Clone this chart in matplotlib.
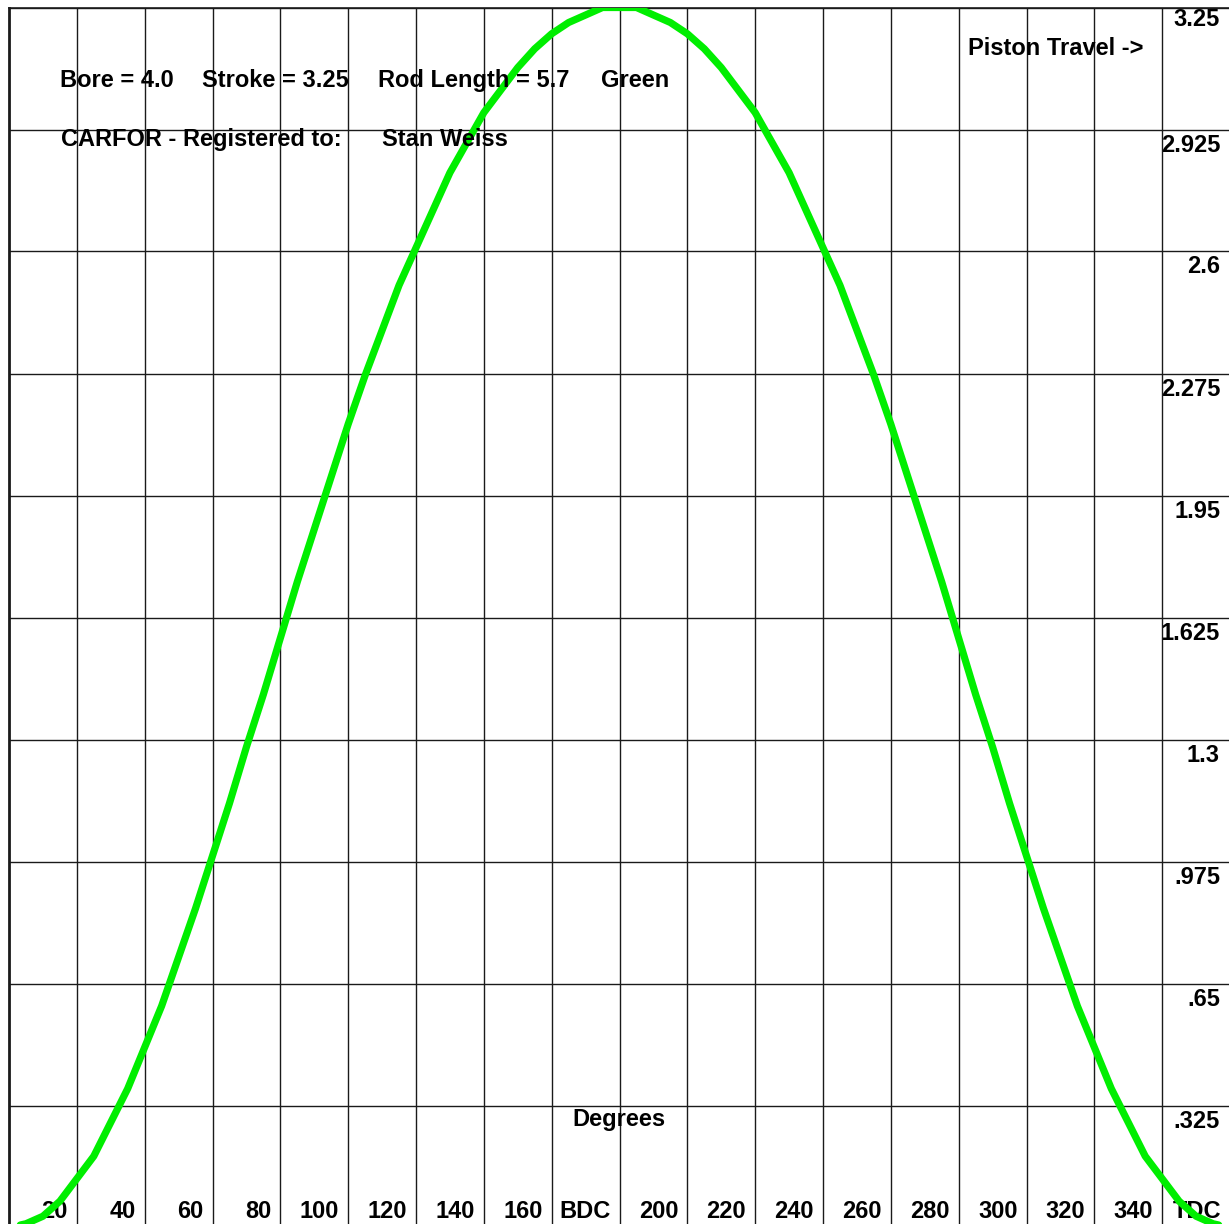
import matplotlib
matplotlib.use('Agg')
from matplotlib import pyplot as plt
from matplotlib.transforms import offset_copy

# crank angle (deg) and piston travel (in), every 5 deg
angle = list(range(0, 361, 5))
travel = [0.00, 0.01, 0.03, 0.07, 0.13, 0.19, 0.28, 0.37, 0.48, 0.59, 0.72, 0.85,
          0.99, 1.13, 1.28, 1.42, 1.57, 1.72, 1.86, 2.00, 2.14, 2.27, 2.39, 2.51,
          2.61, 2.71, 2.81, 2.89, 2.97, 3.03, 3.09, 3.14, 3.18, 3.21, 3.23, 3.25,
          3.25,
          3.25, 3.23, 3.21, 3.18, 3.14, 3.09, 3.03, 2.97, 2.89, 2.81, 2.71, 2.61,
          2.51, 2.39, 2.27, 2.14, 2.00, 1.86, 1.72, 1.57, 1.42, 1.28, 1.13, 0.99,
          0.85, 0.72, 0.59, 0.48, 0.37, 0.28, 0.19, 0.13, 0.07, 0.03, 0.01, 0.00]

x_ticks = [20, 40, 60, 80, 100, 120, 140, 160, 180, 200, 220, 240, 260, 280, 300, 320, 340, 360]
x_labels = ['20', '40', '60', '80', '100', '120', '140', '160', 'BDC', '200', '220', '240',
            '260', '280', '300', '320', '340', 'TDC']
y_ticks = [0.325, 0.65, 0.975, 1.3, 1.625, 1.95, 2.275, 2.6, 2.925, 3.25]
y_labels = ['.325', '.65', '.975', '1.3', '1.625', '1.95', '2.275', '2.6', '2.925', '3.25']

plt.rcParams['font.family'] = ['Liberation Sans', 'DejaVu Sans']
plt.rcParams['font.weight'] = 'bold'
FS = 17

W, H = 1229, 1224
fig = plt.figure(figsize=(W / 100, H / 100), dpi=100)
fig.patch.set_facecolor('white')

# plot area: 0 deg at x=9px, 360 at x=1230px; 3.25 at y=7.5px, 0 at y=1227.5px (from top)
ax = fig.add_axes([9 / W, (H - 1227.5) / H, (1230 - 9) / W, (1227.5 - 7.5) / H])
ax.set_xlim(0, 360)
ax.set_ylim(0, 3.25)
ax.set_xticks(x_ticks)
ax.set_yticks(y_ticks)
ax.tick_params(length=0, labelbottom=False, labelleft=False)
ax.grid(True, color='#1a1a1a', linewidth=1.0)
for s in ['right', 'bottom']:
    ax.spines[s].set_visible(False)
ax.spines['left'].set_linewidth(2.0)
ax.spines['top'].set_linewidth(1.2)
ax.spines['left'].set_color('#1a1a1a')
ax.spines['top'].set_color('#1a1a1a')

ax.plot(angle, travel, color='#00ee00', linewidth=5.2, solid_capstyle='round',
        solid_joinstyle='round', zorder=4)

# tick labels inside the plot
tr_x = offset_copy(ax.transData, fig=fig, x=-9, y=10, units='dots')
for xv, lab in zip(x_ticks, x_labels):
    ax.text(xv, 0, lab, transform=tr_x, ha='right', va='baseline', fontsize=FS,
            fontweight='bold', zorder=1)

for yv, lab in zip(y_ticks, y_labels):
    off = 0 if yv == max(y_ticks) else -4
    tr_y = offset_copy(ax.transData, fig=fig, x=-10, y=off, units='dots')
    ax.text(360, yv, lab, transform=tr_y, ha='right', va='top', fontsize=FS,
            fontweight='bold', zorder=1)


def fig_text(x, y, s):
    # x, y in pixels from the top-left corner, y is the baseline
    fig.text(x / W, (H - y) / H, s, ha='left', va='baseline', fontsize=FS,
             fontweight='bold', zorder=1)


fig_text(60, 87, 'Bore = 4.0')
fig_text(202, 87, 'Stroke = 3.25')
fig_text(378, 87, 'Rod Length = 5.7')
fig_text(601, 87, 'Green')
fig_text(61, 146, 'CARFOR - Registered to:')
fig_text(382, 146, 'Stan Weiss')
fig_text(968, 55, 'Piston Travel ->')
fig_text(572, 1126, 'Degrees')

plt.savefig('out.png', dpi=100, facecolor='white')
